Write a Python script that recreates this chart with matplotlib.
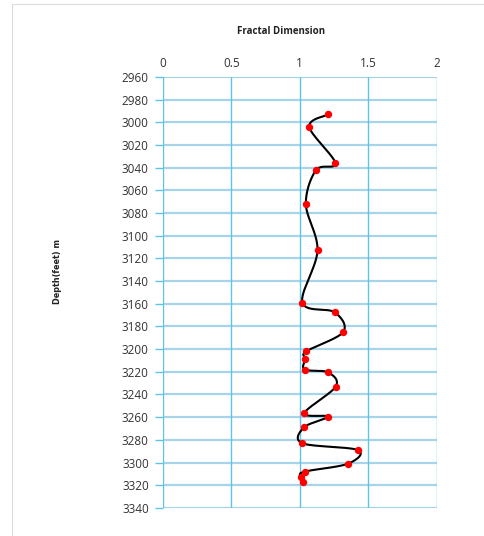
import numpy as np
import matplotlib
matplotlib.use("Agg")
import matplotlib.pyplot as plt
from matplotlib.patches import Rectangle

# Fractal dimension readings versus depth
depth = [2993, 3004, 3036, 3042, 3072, 3113, 3159, 3167.5, 3185, 3202, 3208.5,
         3218, 3220.5, 3233, 3256.5, 3259.5, 3269, 3283, 3289, 3301, 3308,
         3312.5, 3317]
fractal_dim = [1.21, 1.07, 1.26, 1.12, 1.045, 1.13, 1.02, 1.255, 1.317, 1.048,
               1.041, 1.036, 1.207, 1.263, 1.034, 1.204, 1.031, 1.019, 1.424,
               1.353, 1.036, 1.007, 1.021]

x_ticks = [0, 0.5, 1, 1.5, 2]
x_tick_labels = ["0", "0.5", "1", "1.5", "2"]
y_ticks = list(range(2960, 3341, 20))

W, H = 484, 536
fig = plt.figure(figsize=(W / 100, H / 100), dpi=100)

# thin outer frame
fig.add_artist(Rectangle((11.5 / W, -0.01), 1.2, 1 - 3.5 / H + 0.01,
                         transform=fig.transFigure, fill=False,
                         edgecolor="#dcdcdc", linewidth=0.8))

ax = fig.add_axes([162.7 / W, 1 - 507.9 / H, 274.0 / W, 431.0 / H])
ax.set_xlim(0, 2)
ax.set_ylim(3340, 2960)


def smooth_curve(xs, ys, sx, sy, n=30):
    """Catmull-Rom spline through the points, computed in screen-like units."""
    px = np.asarray(xs, float) * sx
    py = np.asarray(ys, float) * sy
    P = np.column_stack([px, py])
    P = np.vstack([P[0], P, P[-1]])
    out = []
    for i in range(1, len(P) - 2):
        p0, p1, p2, p3 = P[i - 1], P[i], P[i + 1], P[i + 2]
        c1 = p1 + (p2 - p0) / 6.0
        c2 = p2 - (p3 - p1) / 6.0
        t = np.linspace(0, 1, n)[:, None]
        seg = ((1 - t) ** 3) * p1 + 3 * ((1 - t) ** 2) * t * c1 \
            + 3 * (1 - t) * t ** 2 * c2 + t ** 3 * p2
        out.append(seg if i == 1 else seg[1:])
    out = np.vstack(out)
    return out[:, 0] / sx, out[:, 1] / sy


# grid
for yv in y_ticks:
    ax.axhline(yv, color="#a8d4ea", linewidth=1.6, zorder=1)
for xv in x_ticks:
    ax.axvline(xv, color="#5cc3ea", linewidth=1.0, zorder=1.5)

cx, cy = smooth_curve(fractal_dim, depth, 137.0, 1.134)
ax.plot(cx, cy, color="black", linewidth=1.5, zorder=3)
ax.plot(fractal_dim, depth, linestyle="none", marker="o", markersize=4.3,
        color="#ff0000", markeredgecolor="#ff0000", zorder=4)

for s in ax.spines.values():
    s.set_visible(False)

ax.xaxis.set_ticks_position("top")
ax.xaxis.set_label_position("top")
ax.set_xticks(x_ticks)
ax.set_xticklabels(x_tick_labels)
ax.set_yticks(y_ticks)
ax.set_yticklabels([str(v) for v in y_ticks])
ax.tick_params(axis="x", length=0, pad=5, labelsize=8.5, labelcolor="#333333")
ax.tick_params(axis="y", length=6, width=1.0, color="#5cc3ea", pad=4,
               labelsize=8.5, labelcolor="#333333")
for lab in ax.get_xticklabels() + ax.get_yticklabels():
    lab.set_family(["Open Sans", "DejaVu Sans"])

fig.text(281.5 / W, 1 - 31 / H, "Fractal Dimension", ha="center", va="center",
         fontsize=7, fontweight="bold", color="#222222",
         family=["Open Sans", "DejaVu Sans"])
fig.text(57 / W, 1 - 272 / H, "Depth(feet) m", ha="center", va="center",
         rotation=90, fontsize=6.5, fontweight="bold", fontstretch="condensed",
         color="#222222", family=["DejaVu Sans"])

fig.savefig("out.png", dpi=100)
